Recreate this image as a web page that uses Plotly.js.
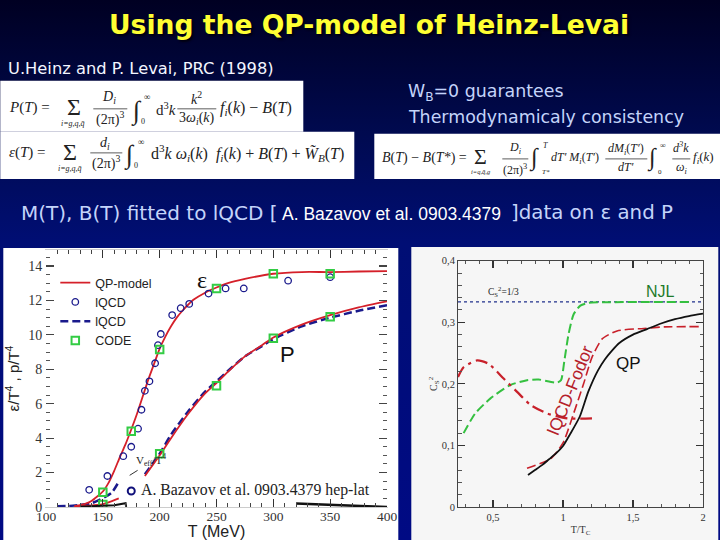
<![CDATA[<!DOCTYPE html>
<html><head><meta charset="utf-8">
<script src="https://cdn.plot.ly/plotly-3.0.1.min.js"></script>
<style>html,body{margin:0;padding:0;width:720px;height:540px;overflow:hidden;background:linear-gradient(180deg,#000022 0%,#000a50 25%,#000e74 45%,#000a84 100%)}#c{width:720px;height:540px}</style>
</head><body><div id="c"></div>
<script>
// Left panel: energy density and pressure over T^4
const tEps=[125,135,140,150,155,160,165,170,175,180,185,190,195,200,205,210,215,220,225,230,240,250,260,275,300,325,350,375,400];
const qpEps=[0.05,0.2,0.35,0.9,1.4,2.1,2.9,3.65,4.5,5.4,6.4,7.4,8.3,9.2,9.9,10.5,11.0,11.4,11.75,12.05,12.45,12.75,13.0,13.25,13.55,13.65,13.65,13.68,13.7];
const tPres=[187,200,210,225,240,250,260,275,290,300,325,350,375,400];
const qpPres=[1.8,3.0,4.0,5.4,6.6,7.2,7.85,8.75,9.4,9.85,10.6,11.15,11.6,11.95];
const latPres=[1.9,3.1,4.2,5.55,6.7,7.3,7.9,8.75,9.35,9.75,10.5,11.0,11.4,11.72];
const tPresLow=[125,135,145,150,155,164];
const qpPresLow=[0.03,0.06,0.12,0.17,0.27,0.5];
const tDashLow=[110,120,130,140,152,158,163];
const latPresLow=[0.04,0.06,0.12,0.22,0.58,0.85,1.35];
const tCircle=[138,154,168,175,181,184,187,191,196,198.5,201,211,218.5,226,243,258,274,313,350];
const eCircle=[1.0,1.8,2.95,3.5,4.55,5.65,6.75,7.3,8.35,9.4,10.05,11.15,11.55,11.8,12.4,12.7,12.7,13.15,13.35];
const tCode=[150,175,200,250,300,350,150,200,250,300,350];
const vCode=[0.85,4.4,9.15,12.7,13.55,13.55,0.15,3.1,7.05,9.8,11.05];
const tVeffA=[130,150,160,170,170.5];
const veffA=[0.02,0.05,0.1,0.22,0.0];
const tVeffB=[320,350,380,400];
const veffB=[0.2,0.13,0.06,0.0];
const tVeffTick=[173.6,180.6];
const veffTick=[1.84,2.13];
const leftYTicks=[0,2,4,6,8,10,12,14];
const leftXTicks=[100,150,200,250,300,350,400];
// Right panel: speed of sound squared
const tQP=[0.75,0.8,0.85,0.9,0.95,1.0,1.05,1.12,1.18,1.25,1.3,1.35,1.4,1.5,1.6,1.7,1.8,1.9,2.0];
const csQP=[0.052,0.06,0.068,0.0775,0.087,0.099,0.118,0.147,0.187,0.222,0.24,0.254,0.266,0.28,0.289,0.298,0.305,0.31,0.314];
const tFodor=[0.743,0.91,1.0,1.076,1.147,1.207,1.28,1.386,1.576,1.72,1.97];
const csFodor=[0.063,0.078,0.104,0.152,0.2,0.243,0.273,0.286,0.29,0.2925,0.293];
const tNJL=[0.29,0.373,0.48,0.623,0.743,0.826,0.957,0.986,1.01,1.04,1.076,1.124,1.183,1.338,1.91];
const csNJL=[0.12,0.152,0.176,0.198,0.206,0.207,0.202,0.206,0.238,0.281,0.313,0.327,0.3316,0.3326,0.333];
const tDashDot=[0.25,0.29,0.386,0.469,0.576,0.672,0.767,0.886,1.03,1.207];
const csDashDot=[0.211,0.227,0.238,0.2326,0.2086,0.187,0.166,0.152,0.144,0.144];
const tConformal=[0.25,2];
const csConformal=[0.3333,0.3333];
const rightXVals=[0.5,1,1.5,2];
const rightXText=['0,5','1','1,5','2'];
const rightYVals=[0,0.1,0.2,0.3,0.4];
const rightYText=['0','0,1','0,2','0,3','0,4'];

const ML=45.7, MR=17.3, MT=250, MB=33.3, PW=720-ML-MR, PH=540-MT-MB;
const fx=p=>(p-ML)/PW, fy=p=>(540-MB-p)/PH;
const dx=(a,b)=>[fx(a),fx(b)], dy=(top,bot)=>[fy(bot),fy(top)];
const SANS='"Liberation Sans",Arial,sans-serif', SER='"Liberation Serif",serif', DJ='"DejaVu Sans",sans-serif';
const ann=[];
function note(text,x,y,size,color,family,extra){ann.push(Object.assign({text,x:fx(x),y:fy(y),xref:'paper',yref:'paper',showarrow:false,xanchor:'center',yanchor:'middle',borderpad:0,font:{size,color,family}},extra||{}));}
const LEFT={xanchor:'left'};

note('Using the QP-model of Heinz-Levai',369,25,26.6,'#ffff33',DJ,{font:{size:26.6,color:'#ffff33',family:DJ,weight:700,shadow:'2px 2px 2px #000010'}});
note('U.Heinz and P. Levai, PRC (1998)',7,69,16.3,'#f4f6ff',DJ,LEFT);
note('W<sub>B</sub>=0 guarantees',407,93,17.4,'#c4d4fa',DJ,LEFT);
note('Thermodynamicaly consistency',407,117,17.4,'#c4d4fa',DJ,LEFT);
note('M(T), B(T) fitted to lQCD [',20,213,20,'#c4d4fa',DJ,LEFT);
note('A. Bazavov et al. 0903.4379',281,214,17.5,'#ffffff',SANS,LEFT);
note(']data on ε and P',510,213,19.8,'#c4d4fa',DJ,LEFT);

const M='#222', F=SER;
// formula 1
note('<i>P</i>(<i>T</i>) =',8,108,15,M,F,LEFT);
note('Σ',74,107,24,M,F);note('<i>i=g,q,q̄</i>',73,124,8,M,F);
note('<i>D<sub>i</sub></i>',109,98,14,M,F);note('(2π)<sup>3</sup>',110,119,14,M,F);
note('∫',136,111,26,M,F);note('∞',147,97,9,M,F);note('0',143,122,8,M,F);
note('d<sup>3</sup><i>k</i>',166,109,15,M,F);
note('<i>k</i><sup>2</sup>',196,98,14,M,F);note('3<i>ω<sub>i</sub></i>(<i>k</i>)',197,119,14,M,F);
note('<i>f<sub>i</sub></i>(<i>k</i>) − <i>B</i>(<i>T</i>)',219,109,16,M,F,LEFT);
// formula 2
note('<i>ε</i>(<i>T</i>) =',8,153,15,M,F,LEFT);
note('Σ',70,152,24,M,F);note('<i>i=g,q,q̄</i>',70,169,8,M,F);
note('<i>d<sub>i</sub></i>',105,144,14,M,F);note('(2π)<sup>3</sup>',106,163,14,M,F);
note('∫',129,155,26,M,F);note('∞',141,142,9,M,F);note('0',136,166,8,M,F);
note('d<sup>3</sup><i>k ω<sub>i</sub></i>(<i>k</i>)  <i>f<sub>i</sub></i>(<i>k</i>) + <i>B</i>(<i>T</i>) + <i>W̃<sub>B</sub></i>(<i>T</i>)',150,153,16,M,F,LEFT);
// formula 3
note('<i>B</i>(<i>T</i>) − <i>B</i>(<i>T*</i>) =',381,158,14,M,F,LEFT);
note('Σ',480,157,22,M,F);note('<i>i=q,q̄,g</i>',481,172,6.5,M,F);
note('<i>D<sub>i</sub></i>',515,148,12,M,F);note('(2π)<sup>3</sup>',515,170,12,M,F);
note('∫',534,158,24,M,F);note('<i>T</i>',545,146,8,M,F);note('<i>T*</i>',546,172,7,M,F);
note('<i>dT′ M<sub>i</sub></i>(<i>T′</i>)',550,158,12,M,F,LEFT);
note('<i>dM<sub>i</sub></i>(<i>T′</i>)',626,149,12,M,F);note('<i>dT′</i>',626,167,12,M,F);
note('∫',652,158,24,M,F);note('∞',663,146,8,M,F);note('0',660,172,7,M,F);
note('<i>d<sup>3</sup>k</i>',681,148,12,M,F);note('<i>ω<sub>i</sub></i>',681,168,12,M,F);
note('<i>f<sub>i</sub></i>(<i>k</i>)',692,158,13,M,F,LEFT);

// left chart notes
note('ε',201.5,280,24,'#111',SER);
note('P',287,354,22,'#111',SANS);
note('V<sub>eff</sub>/T<sup>4</sup>',151,460,11,'#222',SER);
note('A. Bazavov et al. 0903.4379 hep-lat',255,490,15.8,'#222',SER);
// right chart notes
note('NJL',660,291,16,'#1f7a2a',SANS);
note('QP',628,363,17,'#111',SANS);
note('lQCD-Fodor',570,390,17.5,'#b5202a',SANS,{textangle:-68});
note('C<sub>S</sub><sup>2</sup>=1/3',503,291,9.5,'#222',SER);

const rect=(x0,y0,x1,y1,c)=>({type:'rect',xref:'paper',yref:'paper',x0:fx(x0),x1:fx(x1),y0:fy(y0),y1:fy(y1),fillcolor:c,line:{width:0},layer:'below'});
const bar=(x0,x1,y)=>({type:'line',xref:'paper',yref:'paper',x0:fx(x0),x1:fx(x1),y0:fy(y),y1:fy(y),line:{color:'#333',width:0.8},layer:'above'});
const shapes=[
 rect(3,248,398,540,'#ffffff'),rect(411,247,718,540,'#f6f6f6'),
 rect(0,81,303,132,'#ffffff'),rect(0,132,354,179,'#ffffff'),rect(374,134,720,179,'#ffffff'),
 bar(93,127,109),bar(177,216,109),bar(90,122,153),bar(502,528,159),bar(605,647,159),bar(672,690,159)
];

const RED='#d5202a', NAVY='#1a1a8c', GREEN='#33cc44';
const L={xaxis:'x',yaxis:'y'}, R={xaxis:'x2',yaxis:'y2'};
const sp={shape:'spline',smoothing:0.6};
const traces=[
 {...L,x:tPres,y:latPres,mode:'lines',line:{color:NAVY,width:2.5,dash:'8px,4px',...sp},showlegend:false},
 {...L,x:tDashLow,y:latPresLow,mode:'lines',line:{color:NAVY,width:2.5,dash:'8px,4px',...sp},showlegend:false},
 {...L,x:tEps,y:qpEps,mode:'lines',name:'QP-model',line:{color:RED,width:1.8,...sp}},
 {...L,x:tPres,y:qpPres,mode:'lines',line:{color:RED,width:1.8,...sp},showlegend:false},
 {...L,x:tPresLow,y:qpPresLow,mode:'lines',line:{color:RED,width:1.8,...sp},showlegend:false},
 {...L,x:tCircle,y:eCircle,mode:'markers',name:'lQCD',marker:{symbol:'circle-open',size:6.5,color:NAVY,line:{width:1.3,color:NAVY}}},
 {...L,x:[null],y:[null],mode:'lines',name:'lQCD',line:{color:NAVY,width:2.5,dash:'8px,4px'}},
 {...L,x:tCode,y:vCode,mode:'markers',name:'CODE',marker:{symbol:'square-open',size:7.5,color:GREEN,line:{width:2,color:GREEN}}},
 {...L,x:tVeffA,y:veffA,mode:'lines',line:{color:'#111',width:2},showlegend:false},
 {...L,x:tVeffB,y:veffB,mode:'lines',line:{color:'#111',width:2.5},showlegend:false},
 {...L,x:tVeffTick,y:veffTick,mode:'lines',line:{color:'#333',width:1},showlegend:false},
 {...L,x:[175],y:[0.93],mode:'markers',marker:{symbol:'circle-open',size:7,color:'#10107a',line:{width:2,color:'#10107a'}},showlegend:false},
 {...R,x:tConformal,y:csConformal,mode:'lines',line:{color:'#20308c',width:1.2,dash:'dot'},showlegend:false},
 {...R,x:tNJL,y:csNJL,mode:'lines',line:{color:'#35c040',width:2,dash:'9px,4px',...sp},showlegend:false},
 {...R,x:tFodor,y:csFodor,mode:'lines',line:{color:'#c8202a',width:1.6,dash:'9px,4px',...sp},showlegend:false},
 {...R,x:tDashDot,y:csDashDot,mode:'lines',line:{color:'#c8202a',width:2.2,dash:'12px,5px,3px,5px',...sp},showlegend:false},
 {...R,x:tQP,y:csQP,mode:'lines',line:{color:'#111',width:1.8,...sp},showlegend:false}
];
const axis={showgrid:false,zeroline:false,ticks:'inside',mirror:'ticks',showline:true,tickwidth:1.2};
const layout={
 width:720,height:540,margin:{l:ML,r:MR,t:MT,b:MB,pad:0},paper_bgcolor:'rgba(0,0,0,0)',plot_bgcolor:'rgba(0,0,0,0)',
 xaxis:{...axis,domain:dx(45.7,386.7),range:[100,400],tickvals:leftXTicks,ticklen:8,linecolor:'#ccc',tickcolor:'#333',ticklabelstandoff:-3,
   minor:{dtick:10,ticks:'inside',ticklen:4,tickcolor:'#444',tickwidth:1},tickfont:{family:SER,size:13.5,color:'#333'},
   title:{text:'T (MeV)',font:{family:SANS,size:16,color:'#222'},standoff:0}},
 yaxis:{...axis,domain:dy(250,506.7),range:[0,14.93],tickvals:leftYTicks,ticklen:8,linecolor:'rgba(0,0,0,0)',tickcolor:'#444',
   minor:{dtick:0.5,ticks:'inside',ticklen:4,tickcolor:'#555',tickwidth:1},tickfont:{family:SER,size:14,color:'#333'},
   title:{text:'ε/T<sup>4</sup> , p/T<sup>4</sup>',font:{family:SANS,size:15,color:'#222'},standoff:4}},
 xaxis2:{...axis,anchor:'y2',domain:dx(457.7,702.7),range:[0.25,2],tickvals:rightXVals,ticktext:rightXText,ticklen:7,linecolor:'#444',tickcolor:'#333',
   minor:{dtick:0.1,ticks:'inside',ticklen:3.5,tickcolor:'#555',tickwidth:1},tickfont:{family:SER,size:10.5,color:'#333'},
   title:{text:'T/T<sub>C</sub>',font:{family:SER,size:10,color:'#333'},standoff:4}},
 yaxis2:{...axis,anchor:'x2',domain:dy(260.7,510),range:[0,0.4],tickvals:rightYVals,ticktext:rightYText,ticklen:7,linecolor:'#444',tickcolor:'#333',
   minor:{dtick:0.02,ticks:'inside',ticklen:3.5,tickcolor:'#555',tickwidth:1},tickfont:{family:SER,size:10.5,color:'#333'},
   title:{text:'C<sub>S</sub><sup>2</sup>',font:{family:SER,size:10,color:'#333'},standoff:2}},
 legend:{x:fx(55),y:fy(268),xanchor:'left',yanchor:'top',bgcolor:'rgba(0,0,0,0)',font:{family:SANS,size:12.5,color:'#222'},itemwidth:30,tracegroupgap:0},
 shapes:shapes,annotations:ann
};
Plotly.newPlot('c',traces,layout,{displayModeBar:false,staticPlot:true});
</script></body></html>
]]>
